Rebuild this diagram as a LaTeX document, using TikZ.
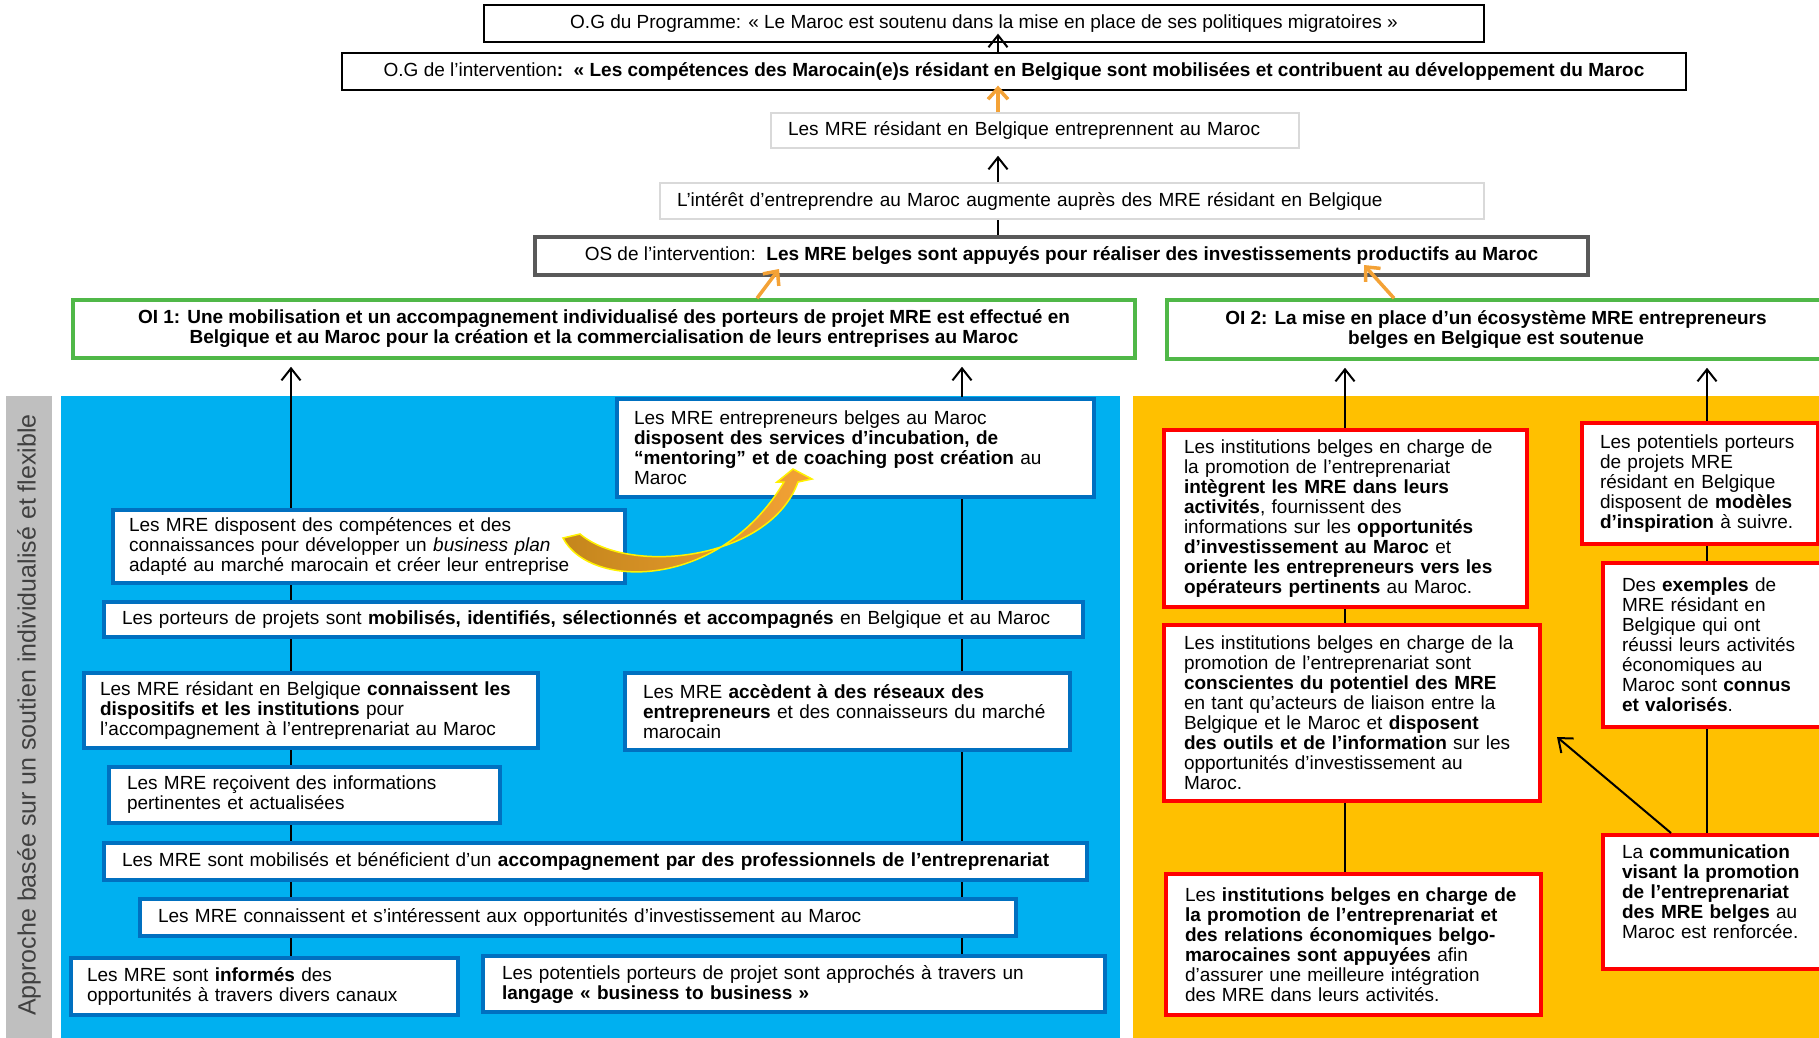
\documentclass[tikz,border=0pt]{standalone}
\usepackage{fontspec}
\setmainfont{Liberation Sans}
\usetikzlibrary{arrows.meta}
\pgfdeclarelayer{background}
\pgfsetlayers{background,main}

\definecolor{panelblue}{HTML}{00B0F0}
\definecolor{panelorange}{HTML}{FFC000}
\definecolor{boxblue}{HTML}{0070C0}
\definecolor{oigreen}{HTML}{50B848}
\definecolor{osgray}{HTML}{595959}
\definecolor{softgray}{HTML}{D9D9D9}
\definecolor{bargray}{HTML}{BFBFBF}
\definecolor{bartext}{HTML}{404040}
\definecolor{arrorange}{HTML}{F4A236}
\definecolor{arrdark}{HTML}{C4861C}

\begin{document}
\begin{tikzpicture}[x=1pt, y=-1pt,
		every node/.style={font=\fontsize{19}{20}\selectfont, inner ysep=0pt},
		ogbox/.style={draw, line width=1.3pt, fill=white, align=center, minimum height=37pt},
		softbox/.style={draw=softgray, line width=1.5pt, fill=white, align=left, inner xsep=17pt},
		oibox/.style={draw=oigreen, line width=3.5pt, fill=white, align=center, font=\fontsize{19}{20}\selectfont\bfseries},
		bluebox/.style={draw=boxblue, line width=3.6pt, fill=white, align=left},
		redbox/.style={draw=red, line width=4pt, fill=white, align=left},
		arr/.style={line width=2pt, -{Straight Barb[length=12pt, width=19pt]}},
		oarr/.style={draw=arrorange, line width=3.5pt, -{Straight Barb[length=11pt, width=20pt]}}]
		\useasboundingbox (0, 0) rectangle (1819, 1037);

		% panels
		\begin{pgfonlayer}{background}
			\fill[bargray] (6, 396) rectangle (52, 1040);
			\fill[panelblue] (61, 396) rectangle (1120, 1040);
			\fill[panelorange] (1133, 396) rectangle (1825, 1040);
		\end{pgfonlayer}
		\node[rotate=90, text=bartext, font=\fontsize{25}{25}\selectfont] (approach) at (29, 715) {Approche basée sur un soutien individualisé et flexible};

		% objectives
		\node[ogbox, minimum width=1000pt] (ogp) at (984, 23.5) {O.G du Programme: « Le Maroc est soutenu dans la mise en place de ses politiques migratoires »};
		\node[ogbox, minimum width=1344pt] (ogi) at (1014, 71.5) {O.G de l’intervention\textbf{:}\ \ \textbf{« Les compétences des Marocain(e)s résidant en Belgique sont mobilisées et contribuent au développement du Maroc}};
		\node[softbox, text width=494pt, minimum height=35pt] (ent) at (1035, 130.5) {Les MRE résidant en Belgique entreprennent au Maroc};
		\node[softbox, text width=790pt, minimum height=36pt] (int) at (1072, 201) {L’intérêt d’entreprendre au Maroc augmente auprès des MRE résidant en Belgique};
		\node[draw=osgray, line width=4pt, fill=white, minimum width=1053pt, minimum height=38pt] (os) at (1061.5, 256) {OS de l’intervention:\ \ \textbf{Les MRE belges sont appuyés pour réaliser des investissements productifs au Maroc}};
		\node[oibox, minimum width=1062pt, minimum height=58pt] (oi1) at (604, 329) {OI 1: Une mobilisation et un accompagnement individualisé des porteurs de projet MRE est effectué en\\Belgique et au Maroc pour la création et la commercialisation de leurs entreprises au Maroc};
		\node[oibox, minimum width=658pt, minimum height=59pt] (oi2) at (1496, 329.5) {OI 2: La mise en place d'un écosystème MRE entrepreneurs\\belges en Belgique est soutenue};

		% left panel
		\node[bluebox, inner xsep=17pt, text width=443pt, minimum height=98pt] (incub) at (855.5, 448) {Les MRE entrepreneurs belges au Maroc\\\textbf{disposent des services d'incubation, de}\\\textbf{“mentoring” et de coaching post création} au\\Maroc};
		\node[bluebox, inner xsep=16pt, text width=480pt, minimum height=73pt] (plan) at (369, 546.5) {Les MRE disposent des compétences et des\\connaissances pour développer un \textit{business plan}\\adapté au marché marocain et créer leur entreprise};
		\node[bluebox, inner xsep=18pt, text width=943pt, minimum height=35pt] (porteurs) at (593.5, 619.5) {Les porteurs de projets sont \textbf{mobilisés, identifiés, sélectionnés et accompagnés} en Belgique et au Maroc};
		\node[bluebox, inner xsep=16pt, text width=422pt, minimum height=75pt] (dispo) at (311, 710.5) {Les MRE résidant en Belgique \textbf{connaissent les}\\\textbf{dispositifs et les institutions} pour\\l’accompagnement à l’entreprenariat au Maroc};
		\node[bluebox, inner xsep=18pt, text width=409pt, minimum height=77pt] (reseaux) at (847.5, 711.5) {Les MRE \textbf{accèdent à des réseaux des}\\\textbf{entrepreneurs} et des connaisseurs du marché\\marocain};
		\node[bluebox, inner xsep=18pt, text width=355pt, minimum height=56pt] (infos) at (304.5, 795) {Les MRE reçoivent des informations\\pertinentes et actualisées};
		\node[bluebox, inner xsep=18pt, text width=947pt, minimum height=37pt] (pros) at (595.5, 861.5) {Les MRE sont mobilisés et bénéficient d’un \textbf{accompagnement par des professionnels de l’entreprenariat}};
		\node[bluebox, inner xsep=18pt, text width=840pt, minimum height=37pt] (interet) at (578, 917.5) {Les MRE connaissent et s’intéressent aux opportunités d’investissement au Maroc};
		\node[bluebox, inner xsep=16pt, text width=355pt, minimum height=57pt] (canaux) at (264.5, 986.5) {Les MRE sont \textbf{informés} des\\opportunités à travers divers canaux};
		\node[bluebox, inner xsep=19pt, text width=584pt, minimum height=56pt] (btob) at (794, 984) {Les potentiels porteurs de projet sont approchés à travers un\\\textbf{langage « business to business »}};

		% right panel
		\node[redbox, inner xsep=20pt, text width=323pt, minimum height=177pt] (integr) at (1345.5, 518.5) {Les institutions belges en charge de\\la promotion de l’entreprenariat\\\textbf{intègrent les MRE dans leurs}\\\textbf{activités}, fournissent des\\informations sur les \textbf{opportunités}\\\textbf{d’investissement au Maroc} et\\\textbf{oriente les entrepreneurs vers les}\\\textbf{opérateurs pertinents} au Maroc.};
		\node[redbox, inner xsep=20pt, text width=336pt, minimum height=176pt] (conscient) at (1352, 713) {Les institutions belges en charge de la\\promotion de l’entreprenariat sont\\\textbf{conscientes du potentiel des MRE}\\en tant qu'acteurs de liaison entre la\\Belgique et le Maroc et \textbf{disposent}\\\textbf{des outils et de l’information} sur les\\opportunités d’investissement au\\Maroc.};
		\node[redbox, inner xsep=19pt, text width=337pt, minimum height=141pt] (appui) at (1353.5, 944.5) {Les \textbf{institutions belges en charge de}\\\textbf{la promotion de l’entreprenariat et}\\\textbf{des relations économiques belgo-}\\\textbf{marocaines sont appuyées} afin\\d’assurer une meilleure intégration\\des MRE dans leurs activités.};
		\node[redbox, inner xsep=18pt, text width=200pt, minimum height=121pt] (modeles) at (1700, 483.5) {Les potentiels porteurs\\de projets MRE\\résidant en Belgique\\disposent de \textbf{modèles}\\\textbf{d'inspiration} à suivre.};
		\node[redbox, inner xsep=19pt, text width=192pt, minimum height=164pt] (exemples) at (1718, 645) {Des \textbf{exemples} de\\MRE résidant en\\Belgique qui ont\\réussi leurs activités\\économiques au\\Maroc sont \textbf{connus}\\\textbf{et valorisés}.};
		\node[redbox, inner xsep=19pt, text width=192pt, minimum height=134pt] (comm) at (1718, 902) {La \textbf{communication}\\\textbf{visant la promotion}\\\textbf{de l'entreprenariat}\\\textbf{des MRE belges} au\\Maroc est renforcée.\\[-6pt]\strut};

		% chain of objectives
		\coordinate (spine) at (998, 0);
		\draw[arr, shorten >=-9pt] (spine |- ogi.north) -- (spine |- ogp.south);
		\draw[oarr, shorten >=-5pt] (spine |- ent.north) -- (spine |- ogi.south);
		\draw[arr, shorten >=7pt] (spine |- int.north) -- (spine |- ent.south);
		\draw[line width=2pt] (spine |- os.north) -- (spine |- int.south);
		\draw[oarr] ([xshift=153pt]oi1.north) -- ([xshift=-282.5pt, yshift=8pt]os.south);
		\draw[oarr] ([xshift=-102pt]oi2.north) -- ([xshift=302.5pt, yshift=12pt]os.south);

		% vertical links
		\coordinate (la) at (291, 0);
		\coordinate (lb) at (962, 0);
		\coordinate (ra) at (1345, 0);
		\coordinate (rb) at (1707, 0);
		\begin{pgfonlayer}{background}
			\draw[arr, shorten >=7pt] (la |- canaux.north) -- (la |- oi1.south);
			\draw[arr, shorten >=7pt] (lb |- btob.north) -- (lb |- oi1.south);
			\draw[arr, shorten >=7pt] (ra |- appui.north) -- (ra |- oi2.south);
			\draw[arr, shorten >=7pt] (rb |- comm.north) -- (rb |- oi2.south);
		\end{pgfonlayer}
		\draw[arr] ([xshift=-47pt]comm.north) -- ([xshift=15pt, yshift=-24pt]conscient.east);

		% curved arrow
		\path[draw=yellow, line width=1.5pt, left color=arrdark, right color=arrorange] (563, 538) .. controls (590, 590) and (720, 590) .. (784, 482) -- (777, 482) -- (793, 469) -- (812, 479) -- (798, 482) .. controls (770, 560) and (630, 576) .. (580, 534) -- cycle;

	\end{tikzpicture}
\end{document}
